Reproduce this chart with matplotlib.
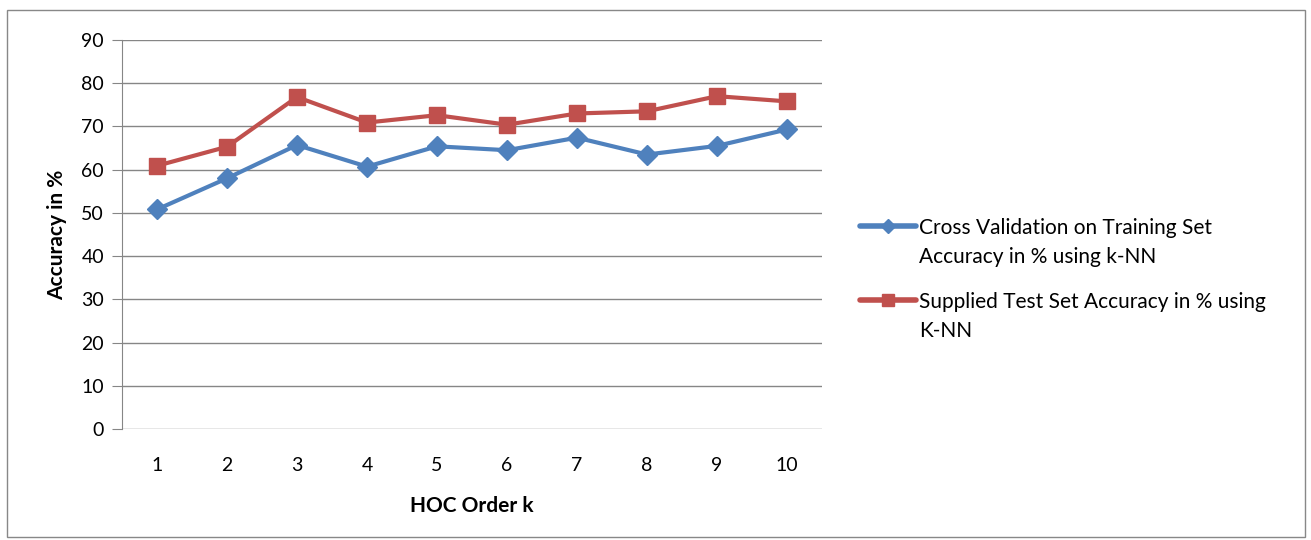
import matplotlib
matplotlib.use('Agg')
import matplotlib.pyplot as plt
from matplotlib.patches import Rectangle
from matplotlib.lines import Line2D

k = [1, 2, 3, 4, 5, 6, 7, 8, 9, 10]
cross_val = [50.8, 58.0, 65.7, 60.7, 65.4, 64.5, 67.4, 63.5, 65.5, 69.3]
test_set = [60.9, 65.3, 76.8, 70.9, 72.6, 70.4, 73.0, 73.5, 77.0, 75.8]
labels = ['Cross Validation on Training Set\nAccuracy in % using k-NN',
          'Supplied Test Set Accuracy in % using\nK-NN']
colors = ['#4F81BD', '#C0504D']
markers = ['D', 's']

plt.rcParams['font.family'] = ['Lato', 'DejaVu Sans']

W, H = 1311, 540
fig = plt.figure(figsize=(W / 100, H / 100), dpi=100)
fig.patches.append(Rectangle((7/W, 3/H), 1298/W, 527/H, transform=fig.transFigure,
                             fill=False, edgecolor='#888888', linewidth=1))

ax = fig.add_axes([122/W, 111/H, 700/W, 389/H])
ax.plot(k, cross_val, color=colors[0], linewidth=3, marker=markers[0], markersize=10)
ax.plot(k, test_set, color=colors[1], linewidth=3, marker=markers[1], markersize=11)

ax.set_xlim(0.5, 10.5)
ax.set_ylim(0, 90)
ax.set_yticks(range(0, 91, 10))
ax.set_xticks(k)
ax.tick_params(axis='both', labelsize=14, colors='black')
ax.tick_params(axis='y', length=7, color='#868686', pad=6)
ax.tick_params(axis='x', length=0, pad=20)
ax.grid(axis='y', color='#868686', linewidth=1)
ax.set_axisbelow(True)
for s in ['top', 'right', 'bottom']:
    ax.spines[s].set_visible(False)
ax.spines['left'].set_color('#868686')
ax.set_xlabel('HOC Order k', fontsize=15, fontweight='bold', labelpad=16)
ax.set_ylabel('Accuracy in %', fontsize=15, fontweight='bold', labelpad=10)

# legend drawn by hand so the key sits on the first text line, as in the original
for i, lab in enumerate(labels):
    y = 1 - (226 + 74 * i) / H
    fig.lines.append(Line2D([860/W, 916/W], [y, y], transform=fig.transFigure,
                            color=colors[i], linewidth=4, solid_capstyle='round'))
    fig.lines.append(Line2D([888/W], [y], transform=fig.transFigure, color=colors[i],
                            marker=markers[i], markersize=7 if i == 0 else 8))
    fig.text(919/W, y + 8/H, lab, fontsize=15, va='top', ha='left', linespacing=1.55)

fig.savefig('out.png', dpi=100)
